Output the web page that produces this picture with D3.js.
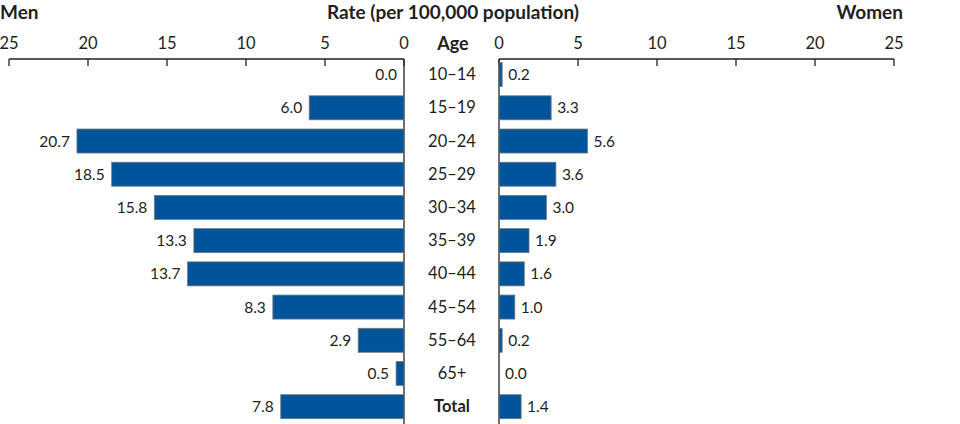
<!DOCTYPE html>
<html><head><meta charset="utf-8">
<script src="https://cdn.jsdelivr.net/npm/d3@7"></script>
<style>body{margin:0;background:#fff}svg{display:block}text{font-family:Lato,"Open Sans",sans-serif;fill:#231f20}</style>
</head><body><svg id="c" width="960" height="424"></svg>
<script>
const ages = ["10–14","15–19","20–24","25–29","30–34","35–39","40–44","45–54","55–64","65+","Total"];
const men = [0.0,6.0,20.7,18.5,15.8,13.3,13.7,8.3,2.9,0.5,7.8];
const women = [0.2,3.3,5.6,3.6,3.0,1.9,1.6,1.0,0.2,0.0,1.4];
const ticks = [0,5,10,15,20,25];

const svg = d3.select("#c");
const xL = d3.scaleLinear().domain([0,25]).range([404,9]);
const xR = d3.scaleLinear().domain([0,25]).range([499,894]);
const y = d3.scalePoint().domain(ages).range([74.6,406.7]);
const bh = 24;
const axisY = 59;
const col = "#00559a";

function axis(scale){
  const g = svg.append("g");
  g.append("line").attr("x1",scale(0)).attr("x2",scale(25)).attr("y1",axisY).attr("y2",axisY).attr("stroke","#231f20").attr("stroke-width",1.3);
  ticks.forEach(t=>{
    g.append("line").attr("x1",scale(t)).attr("x2",scale(t)).attr("y1",axisY).attr("y2",axisY+7).attr("stroke","#231f20").attr("stroke-width",1.3);
    g.append("text").attr("x",scale(t)).attr("y",49).attr("text-anchor","middle").style("font-size","16.5px").text(t);
  });
  g.append("line").attr("x1",scale(0)).attr("x2",scale(0)).attr("y1",axisY).attr("y2",424).attr("stroke","#231f20").attr("stroke-width",1.3);
}
axis(xL); axis(xR);

svg.selectAll(".bm").data(men).enter().append("rect")
  .attr("x",d=>xL(d)).attr("width",d=>xL(0)-xL(d)).attr("y",(d,i)=>y(ages[i])-bh/2).attr("height",bh)
  .attr("fill",col).attr("stroke","#777").attr("stroke-width",0.8);
svg.selectAll(".bw").data(women).enter().append("rect")
  .attr("x",xR(0)).attr("width",d=>xR(d)-xR(0)).attr("y",(d,i)=>y(ages[i])-bh/2).attr("height",bh)
  .attr("fill",col).attr("stroke","#777").attr("stroke-width",0.8);

svg.selectAll(".lm").data(men).enter().append("text")
  .attr("x",d=>xL(d)-7).attr("y",(d,i)=>y(ages[i])+5.5).attr("text-anchor","end").style("font-size","15.5px").text(d=>d.toFixed(1));
svg.selectAll(".lw").data(women).enter().append("text")
  .attr("x",d=>xR(d)+6).attr("y",(d,i)=>y(ages[i])+5.5).style("font-size","15.5px").text(d=>d.toFixed(1));
svg.selectAll(".la").data(ages).enter().append("text")
  .attr("x",452).attr("y",d=>y(d)+5.5).attr("text-anchor","middle").style("font-size","16.5px")
  .style("font-weight",d=>d==="Total"?"bold":"normal").text(d=>d);

svg.append("text").attr("x",453).attr("y",50).attr("text-anchor","middle").style("font-size","18px").style("font-weight","bold").text("Age");
svg.append("text").attr("x",453).attr("y",19).attr("text-anchor","middle").style("font-size","19px").style("font-weight","bold").text("Rate (per 100,000 population)");
svg.append("text").attr("x",0).attr("y",19).style("font-size","19px").style("font-weight","bold").text("Men");
svg.append("text").attr("x",903).attr("y",19).attr("text-anchor","end").style("font-size","19px").style("font-weight","bold").text("Women");
</script></body></html>
